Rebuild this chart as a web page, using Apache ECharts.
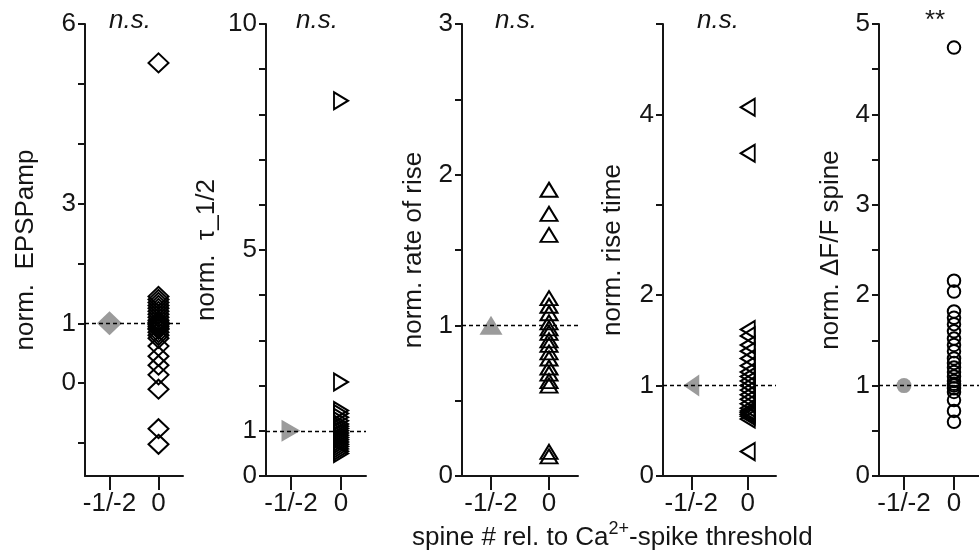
<!DOCTYPE html>
<html>
<head>
<meta charset="utf-8">
<script src="https://cdn.jsdelivr.net/npm/echarts@6/dist/echarts.min.js"></script>
<style>
  html, body { margin: 0; padding: 0; background: #fff; }
  #chart { width: 979px; height: 560px; }
</style>
</head>
<body>
<div id="chart"></div>
<script>
// Category labels shared by all five panels
const categories = ['-1/-2', '0'];

// Reference spine (normalised to 1) for every measure
const refValue = 1;

// Spine 0 values, one list per measure
const epspAmp = [5.35, 1.45, 1.4, 1.35, 1.3, 1.25, 1.2, 1.15, 1.1, 1.05, 1.02, 1.0, 0.98, 0.95, 0.92, 0.9, 0.85, 0.8, 0.75, 0.62, 0.45, 0.3, 0.14, -0.1, -0.76, -1.02];
const tauHalf = [8.3, 2.08, 1.45, 1.38, 1.3, 1.22, 1.15, 1.1, 1.05, 1.0, 0.95, 0.9, 0.85, 0.8, 0.75, 0.7, 0.65, 0.6, 0.55, 0.5];
const rateOfRise = [1.9, 1.74, 1.6, 1.18, 1.13, 1.08, 1.02, 0.98, 0.95, 0.9, 0.87, 0.82, 0.78, 0.72, 0.68, 0.63, 0.6, 0.16, 0.13];
const riseTime = [4.08, 3.57, 1.62, 1.55, 1.45, 1.38, 1.3, 1.22, 1.15, 1.1, 1.05, 1.0, 0.95, 0.9, 0.85, 0.8, 0.75, 0.72, 0.7, 0.68, 0.66, 0.63, 0.27];
const dffSpine = [4.74, 2.16, 2.04, 1.82, 1.75, 1.68, 1.6, 1.52, 1.45, 1.38, 1.3, 1.25, 1.2, 1.15, 1.1, 1.05, 1.02, 1.0, 0.97, 0.93, 0.84, 0.72, 0.6];

// Axis titles, ranges, labelled values and tick values
const axisTitles = ['norm.  EPSPamp', 'norm.  \u03c4_1/2', 'norm. rate of rise', 'norm. rise time', 'norm. \u0394F/F spine'];
const yMins = [-1.55, 0, 0, 0, 0];
const yMaxs = [6, 10, 3, 5, 5];
const yLabelValues = [[0, 1, 3, 6], [0, 1, 5, 10], [0, 1, 2, 3], [0, 1, 2, 4], [0, 1, 2, 3, 4, 5]];
const yTickValues = [
  [-1, 0, 1, 2, 3, 4, 5, 6],
  [0, 1, 2, 3, 4, 5, 6, 7, 8, 9, 10],
  [0, 0.5, 1, 1.5, 2, 2.5, 3],
  [0, 1, 2, 3, 4, 5],
  [0, 0.5, 1, 1.5, 2, 2.5, 3, 3.5, 4, 4.5, 5]
];
const significance = ['n.s.', 'n.s.', 'n.s.', 'n.s.', '**'];

const FONT = 'Liberation Sans, Arial, sans-serif';
const FS = 26;
const INK = '#151515';
const GREY = '#9b9b9b';

// Panel frames
const grids = [
  { left: 85, width: 98 },
  { left: 266, width: 100 },
  { left: 462, width: 116 },
  { left: 663, width: 113 },
  { left: 879, width: 120 }
].map(g => Object.assign({ top: 24, height: 452 }, g));

const nameGaps = [46, 46, 35, 37, 35];

// Marker shapes per panel: [shape, rotate, open size, filled size]
const markers = [
  ['diamond', 0, [20, 19], [25, 24]],
  ['triangle', -90, [17, 14], [22, 19]],
  ['triangle', 0, [17, 14], [23, 19]],
  ['triangle', 90, [17, 14], [22, 16]],
  ['circle', 0, 12.5, 15]
];
const panelValues = [epspAmp, tauHalf, rateOfRise, riseTime, dffSpine];

const xAxes = grids.map((g, i) => ({
  type: 'category',
  gridIndex: i,
  data: categories,
  boundaryGap: true,
  axisLine: { onZero: false, lineStyle: { color: INK, width: 2 } },
  axisTick: { show: true, interval: 0, alignWithLabel: true, length: 14, lineStyle: { color: INK, width: 2 } },
  axisLabel: { show: true, interval: 0, hideOverlap: false, fontFamily: FONT, fontSize: FS, color: INK, margin: 15 },
  splitLine: { show: false }
}));

const yAxes = grids.map((g, i) => ({
  type: 'value',
  gridIndex: i,
  min: yMins[i],
  max: yMaxs[i],
  name: axisTitles[i],
  nameLocation: 'middle',
  nameRotate: 90,
  nameGap: nameGaps[i],
  nameTextStyle: { fontFamily: FONT, fontSize: FS, color: INK },
  axisLine: { show: true, onZero: false, lineStyle: { color: INK, width: 2 } },
  axisTick: { show: true, length: 7, customValues: yTickValues[i], lineStyle: { color: INK, width: 2 } },
  axisLabel: { fontFamily: FONT, fontSize: FS, color: INK, margin: 9, customValues: yLabelValues[i] },
  splitLine: { show: false }
}));

const series = [];
panelValues.forEach((vals, i) => {
  const [shape, rot, openSize, fillSize] = markers[i];
  series.push({
    type: 'scatter',
    xAxisIndex: i,
    yAxisIndex: i,
    z: 2,
    symbol: shape,
    symbolRotate: rot,
    symbolSize: openSize,
    itemStyle: { color: 'rgba(255,255,255,0)', borderColor: '#000', borderWidth: 2, opacity: 1 },
    emphasis: { disabled: true },
    data: vals.map(v => [categories[1], v]),
    markLine: {
      silent: true,
      symbol: 'none',
      label: { show: false },
      lineStyle: { color: '#000', width: 1.3, type: [4, 3] },
      data: [{ yAxis: refValue }]
    }
  });
  series.push({
    type: 'scatter',
    xAxisIndex: i,
    yAxisIndex: i,
    z: 3,
    symbol: shape,
    symbolRotate: rot,
    symbolSize: fillSize,
    itemStyle: { color: GREY, opacity: 1 },
    emphasis: { disabled: true },
    data: [[categories[0], refValue]]
  });
});

// Significance marks above each panel
const sigX = [130, 317, 516, 718, 935];
const graphics = significance.map((s, i) => ({
  type: 'text',
  x: sigX[i],
  y: 8,
  style: {
    text: s,
    fill: INK,
    font: (s === '**' ? 'normal ' : 'italic ') + FS + 'px ' + FONT,
    textAlign: 'center',
    textVerticalAlign: 'top'
  }
}));

// Shared x-axis title with superscript charge
graphics.push({
  type: 'text',
  x: 412,
  y: 520,
  style: {
    text: '{a|spine # rel. to Ca}{b|2+}{a|-spike threshold}',
    fill: INK,
    textVerticalAlign: 'top',
    rich: {
      a: { fontFamily: FONT, fontSize: FS, lineHeight: 36, fill: INK },
      b: { fontFamily: FONT, fontSize: 18, lineHeight: 20, verticalAlign: 'top', fill: INK }
    }
  }
});

const chart = echarts.init(document.getElementById('chart'), null, { renderer: 'canvas' });
chart.setOption({
  backgroundColor: '#fff',
  animation: false,
  tooltip: { show: false },
  grid: grids,
  xAxis: xAxes,
  yAxis: yAxes,
  series: series,
  graphic: graphics
});
</script>
</body>
</html>
